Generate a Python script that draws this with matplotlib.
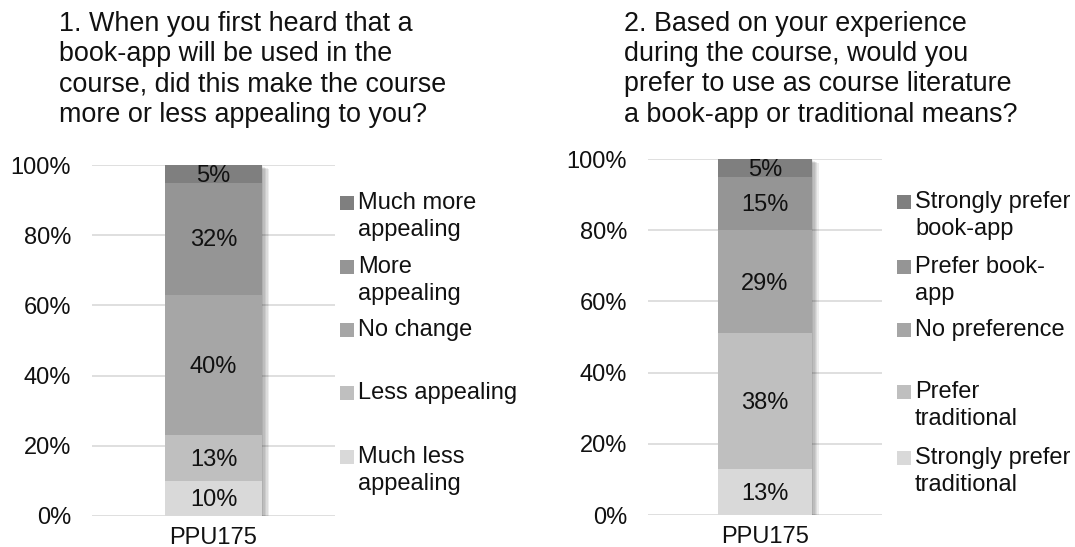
import matplotlib
matplotlib.use("Agg")
import matplotlib.pyplot as plt
from matplotlib.patches import Rectangle
import matplotlib.patheffects as pe

plt.rcParams['font.family'] = ['Liberation Sans', 'DejaVu Sans']

# ---- data ----
category = ["PPU175"]

title1 = "1. When you first heard that a\nbook-app will be used in the\ncourse, did this make the course\nmore or less appealing to you?"
labels1 = ["Much less\nappealing", "Less appealing", "No change", "More\nappealing", "Much more\nappealing"]
values1 = [10, 13, 40, 32, 5]

title2 = "2. Based on your experience\nduring the course, would you\nprefer to use as course literature\na book-app or traditional means?"
labels2 = ["Strongly prefer\ntraditional", "Prefer\ntraditional", "No preference", "Prefer book-\napp", "Strongly prefer\nbook-app"]
values2 = [13, 38, 29, 15, 5]

colors = ["#d9d9d9", "#bfbfbf", "#a6a6a6", "#959595", "#7f7f7f"]
yticks = [0, 20, 40, 60, 80, 100]
ytick_labels = ["0%", "20%", "40%", "60%", "80%", "100%"]

W, H = 1075, 547
fig = plt.figure(figsize=(W / 100, H / 100), dpi=100)

FS = 17
TFS = 19.4
TXT = '#111111'


def px(x, y):
    return x / W, 1 - y / H


def panel(rect, values, labels, title, title_xy, leg_x, leg_sq, leg_y):
    ax = fig.add_axes(rect)
    # soft shadow behind the whole stacked bar
    backdrop = ax.bar(category, [sum(values)], width=0.4, color='white', zorder=2)
    shadows = [pe.SimplePatchShadow(offset=(d, -d * 0.6), shadow_rgbFace='#000000', alpha=0.07)
               for d in (5, 4, 3, 2, 1)]
    for b in backdrop:
        b.set_path_effects(shadows + [pe.Normal()])
    bottom = 0
    for v, c in zip(values, colors):
        ax.bar(category, [v], bottom=[bottom], width=0.4, color=c, zorder=3)
        ax.text(0, bottom + v / 2 - 0.5, f"{v}%", ha='center', va='center', fontsize=FS, color=TXT, zorder=4)
        bottom += v
    ax.set_xlim(-0.5, 0.5)
    ax.set_ylim(0, 100)
    ax.set_yticks(yticks)
    ax.set_yticklabels(ytick_labels)
    ax.yaxis.grid(True, color='#d9d9d9', linewidth=1.2, zorder=0)
    ax.set_axisbelow(True)
    for s in ax.spines.values():
        s.set_visible(False)
    ax.tick_params(axis='y', length=0, pad=15, labelsize=FS, labelcolor=TXT)
    ax.tick_params(axis='x', length=0, pad=8, labelsize=FS, labelcolor=TXT)
    tx, ty = px(*title_xy)
    fig.text(tx, ty, title, ha='left', va='top', fontsize=TFS, linespacing=1.21, color=TXT)
    # legend (top entry first)
    for i, (lab, c) in enumerate(zip(labels[::-1], colors[::-1])):
        yc = leg_y[i]
        x0, y0 = px(leg_sq, yc + 7)
        fig.add_artist(Rectangle((x0, y0), 14 / W, 14 / H, transform=fig.transFigure,
                                 facecolor=c, edgecolor='none'))
        for j, line in enumerate(lab.split("\n")):
            lx, ly = px(leg_x, yc + j * 27)
            fig.text(lx, ly, line, ha='left', va='center', fontsize=FS, color=TXT)
    return ax


panel([92 / W, (H - 516) / H, 243 / W, 351 / H], values1, labels1, title1,
      (59, 11), 358, 340, [203, 267, 330, 393, 457])
panel([648 / W, (H - 515) / H, 234 / W, 356 / H], values2, labels2, title2,
      (624, 11), 915, 897, [202, 267, 330, 392, 458])

fig.savefig("out.png", dpi=100)
